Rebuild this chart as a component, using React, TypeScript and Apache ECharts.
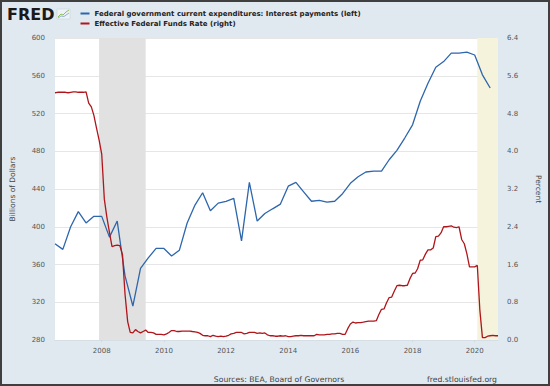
import React, { useEffect, useRef } from "react";
import * as echarts from "echarts";

// Quarterly interest payments, billions of dollars (2006 Q3 .. 2020 Q3)
const interestStart = [2006, 6];
const interestPayments = [
  382, 376,
  400, 416, 404, 411,
  411, 389, 406, 348,
  316, 356, 367, 377,
  377, 369, 375, 404,
  423, 436, 417, 425,
  427, 430, 385, 447,
  406, 414, 419, 424,
  443, 447, 437, 427,
  428, 426, 427, 435,
  446, 453, 458, 459,
  459, 471, 481, 494,
  508, 533, 552, 569,
  575, 584, 584, 585,
  582, 561, 547,
];

// Monthly effective federal funds rate, percent (2006-07 .. 2020-10)
const fundsStart = [2006, 6];
const fundsRate = [
  5.24, 5.25, 5.25, 5.25, 5.25, 5.24,
  5.25, 5.26, 5.26, 5.25, 5.25, 5.25, 5.26, 5.02, 4.94, 4.76, 4.49, 4.24,
  3.94, 2.98, 2.61, 2.28, 1.98, 2.0, 2.01, 2.0, 1.81, 0.97, 0.39, 0.16,
  0.15, 0.22, 0.18, 0.15, 0.18, 0.21, 0.16, 0.16, 0.15, 0.12, 0.12, 0.12,
  0.11, 0.13, 0.16, 0.2, 0.2, 0.18, 0.18, 0.19, 0.19, 0.19, 0.19, 0.18,
  0.17, 0.16, 0.14, 0.1, 0.09, 0.09, 0.07, 0.1, 0.08, 0.07, 0.08, 0.07,
  0.08, 0.1, 0.13, 0.14, 0.16, 0.16, 0.16, 0.13, 0.14, 0.16, 0.16, 0.16,
  0.14, 0.15, 0.14, 0.15, 0.11, 0.09, 0.09, 0.08, 0.08, 0.09, 0.08, 0.09,
  0.07, 0.07, 0.08, 0.09, 0.09, 0.1, 0.09, 0.09, 0.09, 0.09, 0.09, 0.12,
  0.11, 0.11, 0.11, 0.12, 0.12, 0.13, 0.13, 0.14, 0.14, 0.12, 0.12, 0.24,
  0.34, 0.38, 0.36, 0.37, 0.37, 0.38, 0.39, 0.4, 0.4, 0.4, 0.41, 0.54,
  0.65, 0.66, 0.79, 0.9, 0.91, 1.04, 1.15, 1.16, 1.15, 1.15, 1.16, 1.3,
  1.41, 1.42, 1.51, 1.69, 1.7, 1.82, 1.91, 1.91, 1.95, 2.19, 2.2, 2.27,
  2.4, 2.4, 2.41, 2.42, 2.39, 2.38, 2.4, 2.13, 2.04, 1.83, 1.55, 1.55,
  1.55, 1.58, 0.65, 0.05, 0.05, 0.08, 0.09, 0.1, 0.09, 0.09,
];

const xTickYears = [2008, 2010, 2012, 2014, 2016, 2018, 2020];
const leftTicks = { min: 280, max: 600, interval: 40 };
const rightTicks = { min: 0, max: 6.4, interval: 0.8 };

// Recessions [start, end] as [year, monthIndex]
const recessions = [
  { from: [2007, 11], to: [2009, 5], color: "#e1e1e1" },
  { from: [2020, 1], to: [2020, 9], color: "#f5f3dc" },
];

const seriesNames = [
  "Federal government current expenditures: Interest payments (left)",
  "Effective Federal Funds Rate (right)",
];

const FONT = "DejaVu Sans";

export default function App() {
  const ref = useRef<HTMLDivElement>(null);
  useEffect(() => {
    if (!ref.current) return;
    const chart = echarts.init(ref.current, undefined, { renderer: "svg" });
    const blueData = interestPayments.map((v, i) => [
      Date.UTC(interestStart[0], interestStart[1] + 3 * i, 1),
      v,
    ]);
    const redData = fundsRate.map((v, i) => [
      Date.UTC(fundsStart[0], fundsStart[1] + i, 1),
      v,
    ]);
    const xMin = Date.UTC(2006, 6, 1);
    const xMax = Date.UTC(2020, 9, 1);
    const tickVals = xTickYears.map((y) => Date.UTC(y, 0, 1));
    const areas = recessions.map((r) => [
      { xAxis: Date.UTC(r.from[0], r.from[1], 1), itemStyle: { color: r.color } },
      { xAxis: Date.UTC(r.to[0], r.to[1], 1) },
    ]);
    chart.setOption({
      animation: false,
      backgroundColor: "#e1e9f0",
      textStyle: { fontFamily: FONT },
      grid: {
        left: 53,
        right: 49,
        top: 38,
        bottom: 46,
        show: true,
        backgroundColor: "#ffffff",
        borderWidth: 0,
      },
      legend: {
        left: 80.5,
        top: 8.5,
        orient: "vertical",
        padding: 0,
        itemGap: 0,
        itemWidth: 9,
        itemHeight: 2,
        icon: "rect",
        selectedMode: false,
        data: seriesNames,
        textStyle: {
          fontFamily: FONT,
          fontSize: 7,
          fontWeight: "bold",
          color: "#222",
          lineHeight: 10,
        },
      },
      xAxis: {
        type: "value",
        min: xMin,
        max: xMax,
        axisLine: { show: true, lineStyle: { color: "#d5dde5", width: 1 } },
        axisTick: {
          show: true,
          customValues: tickVals,
          length: 2,
          lineStyle: { color: "#d0d8e0" },
        },
        splitLine: { show: false },
        axisLabel: {
          customValues: tickVals,
          formatter: (v: number) => String(new Date(v).getUTCFullYear()),
          fontFamily: FONT,
          fontSize: 7,
          color: "#555",
          margin: 7,
        },
      },
      yAxis: [
        {
          type: "value",
          min: leftTicks.min,
          max: leftTicks.max,
          interval: leftTicks.interval,
          name: "Billions of Dollars",
          nameLocation: "middle",
          nameGap: 39,
          nameRotate: 90,
          nameTextStyle: { fontFamily: FONT, fontSize: 7.5, color: "#444" },
          axisLine: { show: false },
          axisTick: { show: false },
          splitLine: { show: true, lineStyle: { color: "#e6e6e6", width: 1 } },
          axisLabel: { fontFamily: FONT, fontSize: 7, color: "#555", margin: 10 },
        },
        {
          type: "value",
          min: rightTicks.min,
          max: rightTicks.max,
          interval: rightTicks.interval,
          name: "Percent",
          nameLocation: "middle",
          nameGap: 36,
          nameRotate: -90,
          nameTextStyle: { fontFamily: FONT, fontSize: 7.5, color: "#444" },
          axisLine: { show: false },
          axisTick: { show: false },
          splitLine: { show: false },
          axisLabel: {
            fontFamily: FONT,
            fontSize: 7,
            color: "#555",
            margin: 9,
            formatter: (v: number) => v.toFixed(1),
          },
        },
      ],
      series: [
        {
          name: seriesNames[0],
          type: "line",
          yAxisIndex: 0,
          data: blueData,
          showSymbol: false,
          color: "#2d66ad",
          lineStyle: { width: 1.3, color: "#2d66ad" },
          z: 3,
          markArea: { silent: true, data: areas },
        },
        {
          name: seriesNames[1],
          type: "line",
          yAxisIndex: 1,
          data: redData,
          showSymbol: false,
          color: "#b0151b",
          lineStyle: { width: 1.3, color: "#b0151b" },
          z: 3,
        },
      ],
      graphic: [
        {
          type: "rect",
          shape: { x: 1, y: 1, width: 548, height: 384 },
          style: { fill: "none", stroke: "#3f3f3f", lineWidth: 2 },
          silent: true,
          z: 100,
        },
        {
          type: "text",
          x: 7,
          y: 14,
          style: {
            text: "FRED",
            fontFamily: FONT,
            fontSize: 16,
            fontWeight: 900,
            fill: "#1a1a1a",
            verticalAlign: "middle",
          },
        },
        {
          type: "rect",
          shape: { x: 57, y: 9, width: 13, height: 10 },
          style: { fill: "#eef2f5", stroke: "#c5ced6", lineWidth: 0.5 },
        },
        {
          type: "polyline",
          shape: { points: [[58, 17], [61, 14], [63, 15], [66, 12], [69, 10]] },
          style: { stroke: "#8cbf5a", lineWidth: 1, fill: "none" },
        },
        {
          type: "polyline",
          shape: { points: [[58, 18], [61, 16], [64, 16.5], [69, 13]] },
          style: { stroke: "#7aa3cc", lineWidth: 0.8, fill: "none" },
        },
        {
          type: "text",
          x: 279,
          y: 379,
          style: {
            text: "Sources: BEA, Board of Governors",
            fontFamily: FONT,
            fontSize: 7.7,
            fill: "#444",
            align: "center",
            verticalAlign: "middle",
          },
        },
        {
          type: "text",
          x: 497,
          y: 379,
          style: {
            text: "fred.stlouisfed.org",
            fontFamily: FONT,
            fontSize: 7.7,
            fill: "#444",
            align: "right",
            verticalAlign: "middle",
          },
        },
      ],
    });
    return () => chart.dispose();
  }, []);
  return (
    <div
      ref={ref}
      style={{ position: "fixed", left: 0, top: 0, width: 550, height: 386 }}
    />
  );
}
